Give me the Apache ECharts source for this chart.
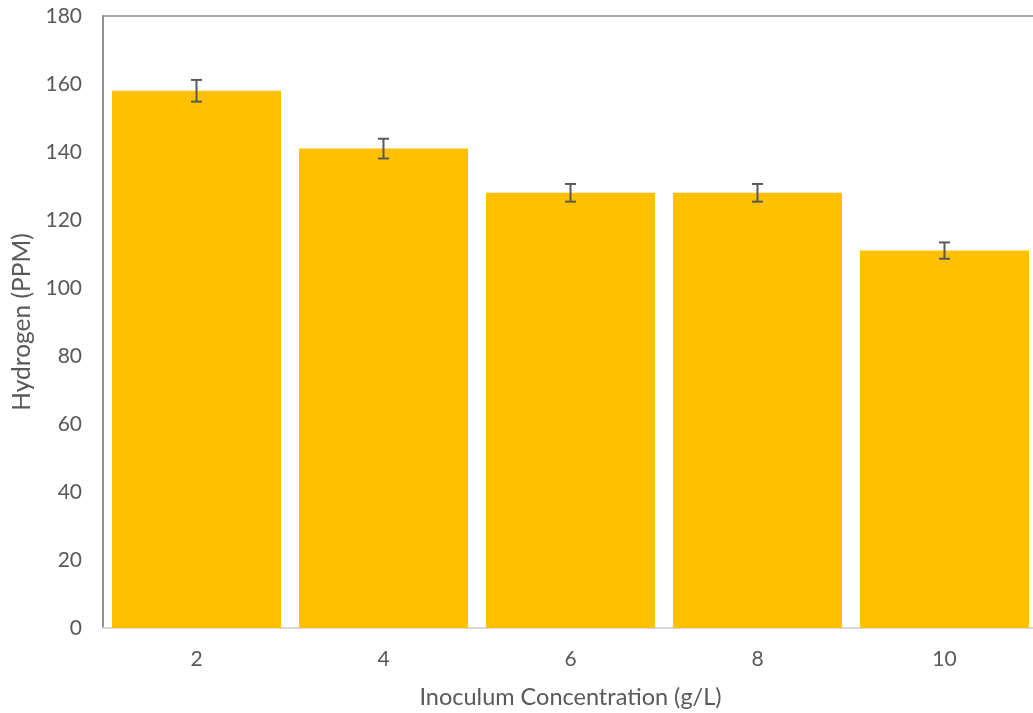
<!DOCTYPE html>
<html>
<head>
<meta charset="utf-8">
<script src="https://cdn.jsdelivr.net/npm/echarts@6/dist/echarts.min.js"></script>
<style>
  html, body { margin: 0; padding: 0; background: #fff; }
  #chart { width: 1033px; height: 713px; }
</style>
</head>
<body>
<div id="chart"></div>
<script>
// Hydrogen yield by inoculum concentration, with standard-deviation error bars
const categories = ['2', '4', '6', '8', '10'];
const hydrogen = [158, 141, 128, 128, 111];
const errors = [3.2, 2.9, 2.6, 2.6, 2.4];
const yTicks = { min: 0, max: 180, interval: 20 };

const FONT = 'Lato, "Open Sans", sans-serif';
const TEXT = '#595959';

const chart = echarts.init(document.getElementById('chart'));

chart.setOption({
  animation: false,
  grid: {
    left: 103, top: 16, width: 935, height: 612,
    outerBoundsMode: 'none',
    containLabel: false,
    show: true, borderColor: '#8c8c8c', borderWidth: 1.5, backgroundColor: 'transparent'
  },
  xAxis: {
    type: 'category',
    data: categories,
    name: 'Inoculum Concentration (g/L)',
    nameLocation: 'middle',
    nameGap: 57,
    nameTextStyle: { fontFamily: FONT, fontSize: 23.5, color: TEXT },
    axisLine: { show: true, lineStyle: { color: '#d9d9d9', width: 2 } },
    axisTick: { show: false },
    axisLabel: { fontFamily: FONT, fontSize: 21, color: TEXT, margin: 21 }
  },
  yAxis: {
    type: 'value',
    min: yTicks.min, max: yTicks.max, interval: yTicks.interval,
    name: 'Hydrogen (PPM)',
    nameLocation: 'middle',
    nameGap: 68,
    nameTextStyle: { fontFamily: FONT, fontSize: 24.5, color: TEXT },
    axisLine: { show: true, lineStyle: { color: '#8c8c8c', width: 1.5 } },
    axisTick: { show: false },
    splitLine: { show: false },
    axisLabel: { fontFamily: FONT, fontSize: 21, color: TEXT, margin: 21 }
  },
  series: [
    {
      type: 'bar',
      data: hydrogen,
      barCategoryGap: '9.6%',
      itemStyle: { color: '#FFC000' },
      z: 2
    },
    {
      type: 'custom',
      z: 3,
      data: hydrogen.map((v, i) => [i, v - errors[i], v + errors[i]]),
      renderItem: function (params, api) {
        const lo = api.coord([api.value(0), api.value(1)]);
        const hi = api.coord([api.value(0), api.value(2)]);
        const half = 5.5;
        const style = { stroke: '#595959', lineWidth: 2 };
        return {
          type: 'group',
          children: [
            { type: 'line', shape: { x1: hi[0], y1: hi[1], x2: lo[0], y2: lo[1] }, style },
            { type: 'line', shape: { x1: hi[0] - half, y1: hi[1], x2: hi[0] + half, y2: hi[1] }, style },
            { type: 'line', shape: { x1: lo[0] - half, y1: lo[1], x2: lo[0] + half, y2: lo[1] }, style }
          ]
        };
      }
    }
  ]
});
</script>
</body>
</html>
